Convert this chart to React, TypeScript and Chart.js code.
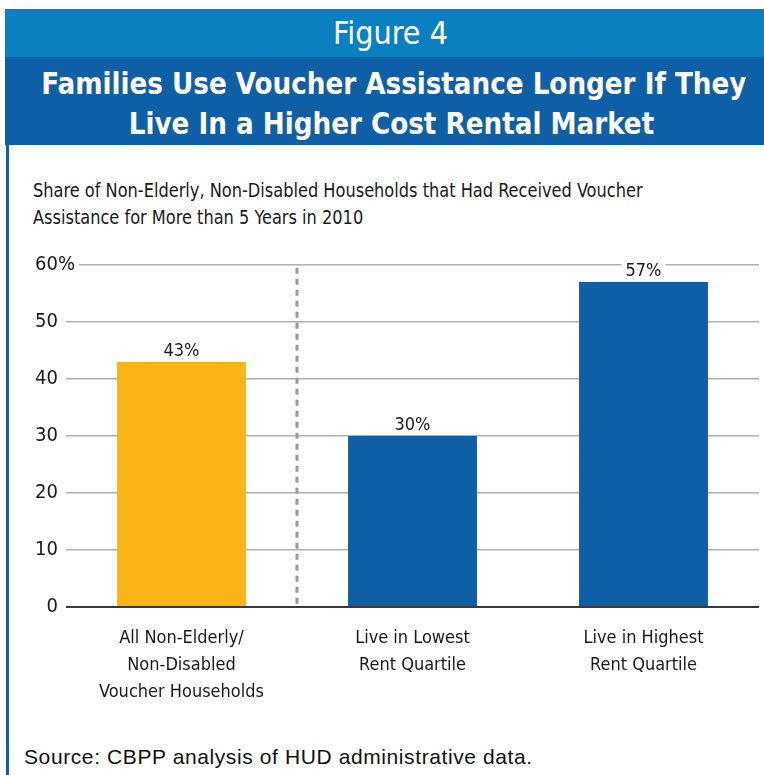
import React, { useEffect, useRef } from "react";
import { Chart, registerables } from "chart.js";

Chart.register(...registerables);

const categories: string[][] = [
  ["All Non-Elderly/", "Non-Disabled", "Voucher Households"],
  ["Live in Lowest", "Rent Quartile"],
  ["Live in Highest", "Rent Quartile"],
];
const shares: number[] = [43, 30, 57];
const barColors: string[] = ["#fbb416", "#0f5fa6", "#0f5fa6"];
const valueLabels: string[] = ["43%", "30%", "57%"];
const yTicks: number[] = [0, 10, 20, 30, 40, 50, 60];

const NARROW = '"Liberation Sans Narrow", "DejaVu Sans Condensed", sans-serif';

const extrasPlugin = {
  id: "extras",
  afterDatasetsDraw(chart: any) {
    const ctx = chart.ctx;
    const x = chart.scales.x;
    const y = chart.scales.y;
    const xd = (x.getPixelForValue(0) + x.getPixelForValue(1)) / 2;
    ctx.save();
    ctx.strokeStyle = "#9a9a9a";
    ctx.lineWidth = 3;
    ctx.setLineDash([6, 5]);
    ctx.beginPath();
    ctx.moveTo(xd, y.getPixelForValue(59.5));
    ctx.lineTo(xd, y.getPixelForValue(0));
    ctx.stroke();
    ctx.restore();
    const meta = chart.getDatasetMeta(0);
    ctx.save();
    ctx.font = `18px ${NARROW}`;
    ctx.textAlign = "center";
    ctx.textBaseline = "alphabetic";
    meta.data.forEach((bar: any, i: number) => {
      const text = valueLabels[i];
      const w = ctx.measureText(text).width;
      const yb = bar.y - 6;
      ctx.fillStyle = "#ffffff";
      ctx.fillRect(bar.x - w / 2 - 4, yb - 16, w + 8, 19);
      ctx.fillStyle = "#1a1a1a";
      ctx.fillText(text, bar.x, yb);
    });
    ctx.restore();
  },
};

function BarChart() {
  const ref = useRef<HTMLCanvasElement | null>(null);
  useEffect(() => {
    if (!ref.current) return;
    const chart = new Chart(ref.current, {
      type: "bar",
      data: {
        labels: categories,
        datasets: [
          {
            data: shares,
            backgroundColor: barColors,
            borderWidth: 0,
            categoryPercentage: 1,
            barPercentage: 0.558,
          },
        ],
      },
      options: {
        animation: false,
        responsive: false,
        maintainAspectRatio: false,
        layout: { padding: { top: 15, right: 5, left: 0, bottom: 0 } },
        plugins: {
          legend: { display: false },
          tooltip: { enabled: false },
          title: { display: false },
        },
        scales: {
          x: {
            grid: { display: false },
            border: { display: false },
            ticks: {
              color: "#1a1a1a",
              font: { family: NARROW, size: 18, lineHeight: 1.5 },
              padding: 10,
              maxRotation: 0,
              autoSkip: false,
            },
            afterFit: (s: any) => {
              s.height = 123;
            },
          },
          y: {
            min: 0,
            max: 60,
            afterBuildTicks: (s: any) => {
              s.ticks = yTicks.map((v) => ({ value: v }));
            },
            grid: {
              drawTicks: false,
              color: (c: any) => (c.tick && c.tick.value === 0 ? "#3a3a3a" : "#b0b0b0"),
              lineWidth: (c: any) => (c.tick && c.tick.value === 0 ? 2 : 1.5),
            },
            border: { display: false },
            ticks: {
              color: "#1a1a1a",
              font: { family: NARROW, size: 20 },
              mirror: true,
              padding: -31,
              callback: (v: any) => (v === 60 ? "60%" : v === 0 ? "\u20070" : `${v}`),
              showLabelBackdrop: (c: any) => c.tick && c.tick.value === 60,
              backdropColor: "#ffffff",
              backdropPadding: { left: 0, right: 4, top: 0, bottom: 0 },
            },
            afterFit: (s: any) => {
              s.width = 58;
            },
          },
        },
      },
      plugins: [extrasPlugin],
    });
    return () => chart.destroy();
  }, []);
  return (
    <canvas
      ref={ref}
      width={756}
      height={480}
      style={{ position: "absolute", left: 8, top: 250, width: 756, height: 480 }}
    />
  );
}

export default function App() {
  return (
    <div style={{ position: "absolute", left: 0, top: 0, width: 764, height: 775, background: "#fff", overflow: "hidden" }}>
      <div
        style={{
          position: "absolute",
          left: 5,
          top: 9,
          width: 759,
          height: 48,
          background: "#0a80c1",
          color: "#fff",
          fontFamily: NARROW,
          fontSize: 32,
          lineHeight: "48px",
          textAlign: "center",
          paddingLeft: 12,
          boxSizing: "border-box",
        }}
      >
        Figure 4
      </div>
      <div
        style={{
          position: "absolute",
          left: 5,
          top: 57,
          width: 759,
          height: 88,
          background: "#0e5fa6",
          color: "#fff",
          fontFamily: NARROW,
          fontWeight: "bold",
          fontSize: 31,
          lineHeight: "40px",
          textAlign: "center",
          paddingTop: 6,
          paddingLeft: 14,
          boxSizing: "border-box",
        }}
      >
        <div style={{ transform: "scaleX(0.94)", transformOrigin: "center", whiteSpace: "nowrap" }}>
          Families Use Voucher Assistance Longer If They
        </div>
        <div style={{ transform: "scaleX(0.94)", transformOrigin: "center", whiteSpace: "nowrap" }}>
          Live In a Higher Cost Rental Market
        </div>
      </div>
      <div style={{ position: "absolute", left: 6, top: 145, width: 3, height: 630, background: "#0e5fa6" }} />
      <div
        style={{
          position: "absolute",
          left: 33,
          top: 177,
          fontFamily: NARROW,
          fontSize: 20,
          lineHeight: "27px",
          color: "#1a1a1a",
          transform: "scaleX(0.9)",
          transformOrigin: "left top",
          whiteSpace: "nowrap",
        }}
      >
        <div>Share of Non-Elderly, Non-Disabled Households that Had Received Voucher</div>
        <div>Assistance for More than 5 Years in 2010</div>
      </div>
      <BarChart />
      <div
        style={{
          position: "absolute",
          left: 24,
          top: 744,
          fontFamily: '"Liberation Sans", Arial, sans-serif',
          fontSize: 21,
          letterSpacing: "0.6px",
          lineHeight: "26px",
          color: "#111",
          whiteSpace: "nowrap",
        }}
      >
        Source: CBPP analysis of HUD administrative data.
      </div>
    </div>
  );
}
